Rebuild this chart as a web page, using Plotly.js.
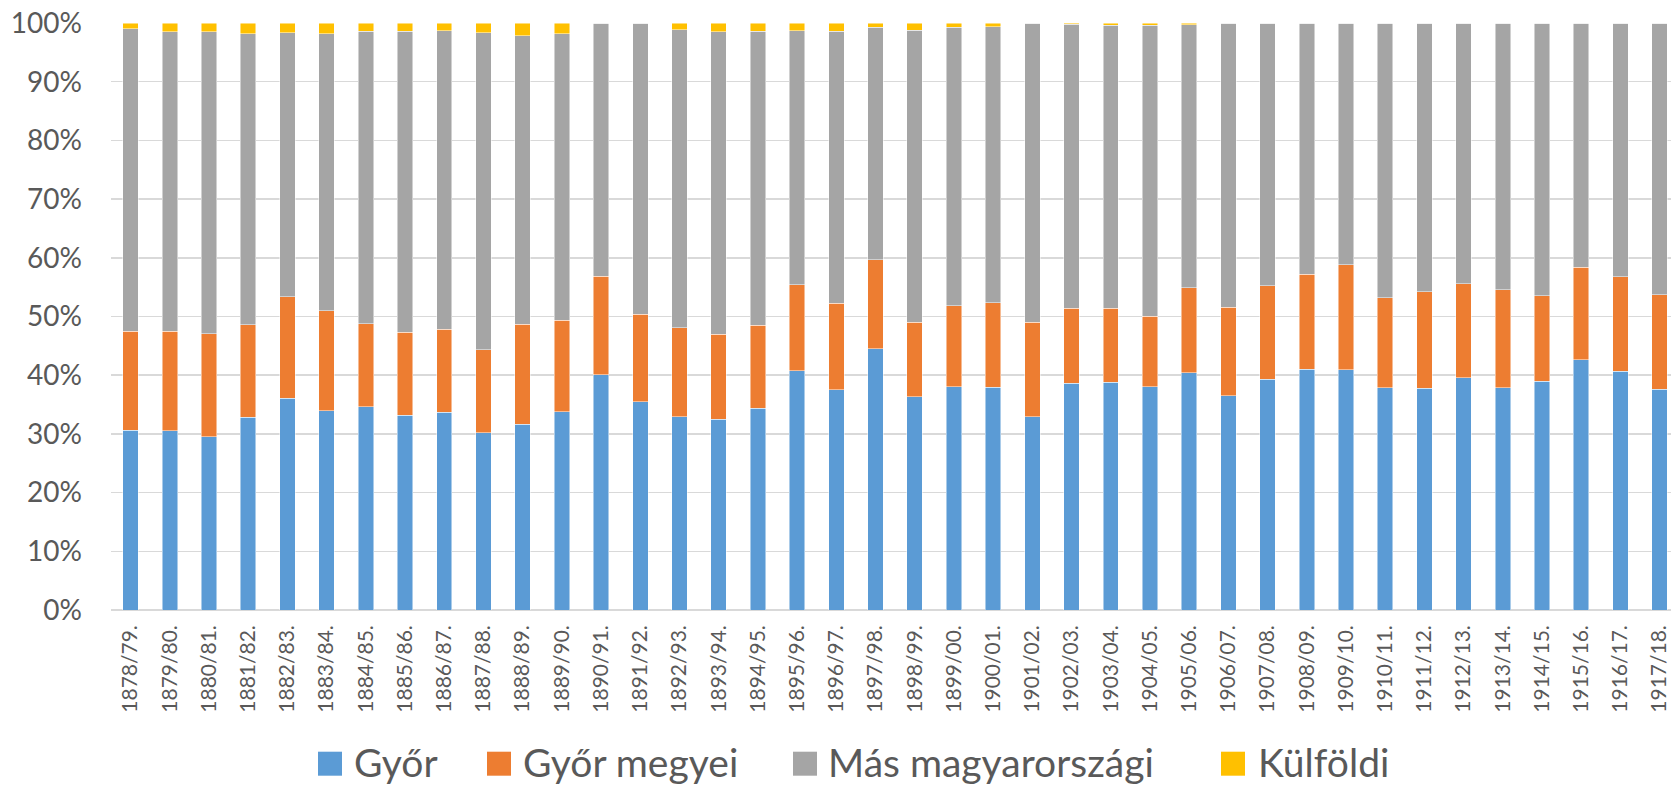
<!DOCTYPE html>
<html>
<head>
<meta charset="utf-8">
<script src="https://cdn.plot.ly/plotly-3.0.1.min.js"></script>
<style>html,body{margin:0;padding:0;overflow:hidden;background:#fff;}</style>
</head>
<body>
<div id="chart" style="width:1671px;height:787px;"></div>
<script>
const categories = ["1878/79.","1879/80.","1880/81.","1881/82.","1882/83.","1883/84.","1884/85.","1885/86.","1886/87.","1887/88.",
"1888/89.","1889/90.","1890/91.","1891/92.","1892/93.","1893/94.","1894/95.","1895/96.","1896/97.","1897/98.",
"1898/99.","1899/00.","1900/01.","1901/02.","1902/03.","1903/04.","1904/05.","1905/06.","1906/07.","1907/08.",
"1908/09.","1909/10.","1910/11.","1911/12.","1912/13.","1913/14.","1914/15.","1915/16.","1916/17.","1917/18."];

const gyor = [30.6,30.5,29.5,32.8,36.1,34.0,34.6,33.2,33.7,30.2,
31.7,33.8,40.1,35.5,32.9,32.5,34.4,40.8,37.5,44.5,
36.3,38.0,37.9,32.9,38.65,38.8,38.0,40.4,36.5,39.3,
41.0,40.9,37.9,37.8,39.6,37.9,39.0,42.6,40.7,37.6];

const gyorMegyei = [16.9,16.9,17.6,15.8,17.3,17.0,14.2,14.1,14.1,14.1,
17.0,15.6,16.8,14.9,15.2,14.5,14.1,14.65,14.8,15.2,
12.7,13.8,14.45,16.1,12.75,12.6,12.05,14.5,15.05,15.9,
16.2,17.9,15.3,16.4,16.0,16.65,14.5,15.75,16.05,16.1];

const masMagyar = [51.5,51.0,51.4,49.6,45.0,47.3,49.8,51.3,50.9,54.0,
49.2,48.8,43.1,49.6,50.7,51.5,50.1,43.2,46.3,39.55,
49.8,47.5,47.0,51.0,48.35,48.25,49.6,44.8,48.4,44.8,
42.8,41.2,46.8,45.8,44.4,45.45,46.5,41.65,43.25,46.3];

const kulfoldi = [1.0,1.5,1.5,1.8,1.65,1.8,1.4,1.4,1.3,1.65,
2.15,1.8,0,0,1.15,1.5,1.4,1.35,1.4,0.75,
1.2,0.7,0.6,0,0.25,0.35,0.35,0.3,0,0,
0,0,0,0,0,0,0,0,0,0];

const seriesNames = ["Győr","Győr megyei","Más magyarországi","Külföldi"];
const seriesColors = ["#5B9BD5","#ED7D31","#A5A5A5","#FFC000"];
const seriesData = [gyor, gyorMegyei, masMagyar, kulfoldi];

const W = 1671, H = 787;
const mL = 111, mR = 0, mT = 23.3, mB = H - 610.3;
const plotW = W - mL - mR, plotH = H - mT - mB;
const px2x = p => (p - mL) / plotW;
const px2y = p => (H - mB - p) / plotH;

const textColor = "#595959";
const fontFam = "Lato, 'Open Sans', 'Liberation Sans', sans-serif";

const traces = seriesData.map((vals, i) => ({
  type: "bar",
  name: seriesNames[i],
  x: categories,
  y: vals,
  marker: {color: seriesColors[i], line: {color: "rgba(255,255,255,0.8)", width: 0.6}},
  showlegend: false,
  hoverinfo: "x+y+name"
}));

// legend drawn as shapes + text annotations
const legendSquaresPx = [318, 487, 793, 1221];
const legendTextPx = [352, 521, 826, 1256];
const sqTop = 752, sqSize = 24;
const shapes = legendSquaresPx.map((lx, i) => ({
  type: "rect", xref: "paper", yref: "paper",
  x0: px2x(lx), x1: px2x(lx + sqSize),
  y0: px2y(sqTop + sqSize), y1: px2y(sqTop),
  fillcolor: seriesColors[i], line: {width: 0}
}));
const annotations = legendTextPx.map((tx, i) => ({
  xref: "paper", yref: "paper",
  x: px2x(tx), y: px2y(762),
  xanchor: "left", yanchor: "middle",
  text: seriesNames[i], showarrow: false,
  font: {family: fontFam, size: 39, color: textColor}
}));

const layout = {
  width: W, height: H,
  margin: {l: mL, r: mR, t: mT, b: mB, pad: 0},
  paper_bgcolor: "#fff", plot_bgcolor: "#fff",
  barmode: "stack",
  barnorm: "percent",
  bargap: 0.605,
  showlegend: false,
  xaxis: {
    type: "category",
    range: [-0.5, 39.29],
    tickangle: -90,
    tickfont: {family: fontFam, size: 21, color: textColor},
    showgrid: false, zeroline: false, showline: false,
    ticks: "", ticklabelstandoff: 10,
    fixedrange: true
  },
  yaxis: {
    range: [0, 100],
    tickvals: [0,10,20,30,40,50,60,70,80,90,100],
    ticktext: ["0%","10%","20%","30%","40%","50%","60%","70%","80%","90%","100%"],
    tickfont: {family: fontFam, size: 28, color: textColor},
    gridcolor: "#D9D9D9", gridwidth: 1.5,
    zeroline: true, zerolinecolor: "#D9D9D9", zerolinewidth: 1.5,
    showline: false, ticks: "", ticklabelstandoff: 28,
    fixedrange: true
  },
  shapes: shapes,
  annotations: annotations,
  font: {family: fontFam, color: textColor}
};

Plotly.newPlot("chart", traces, layout, {displayModeBar: false, staticPlot: true});
</script>
</body>
</html>
